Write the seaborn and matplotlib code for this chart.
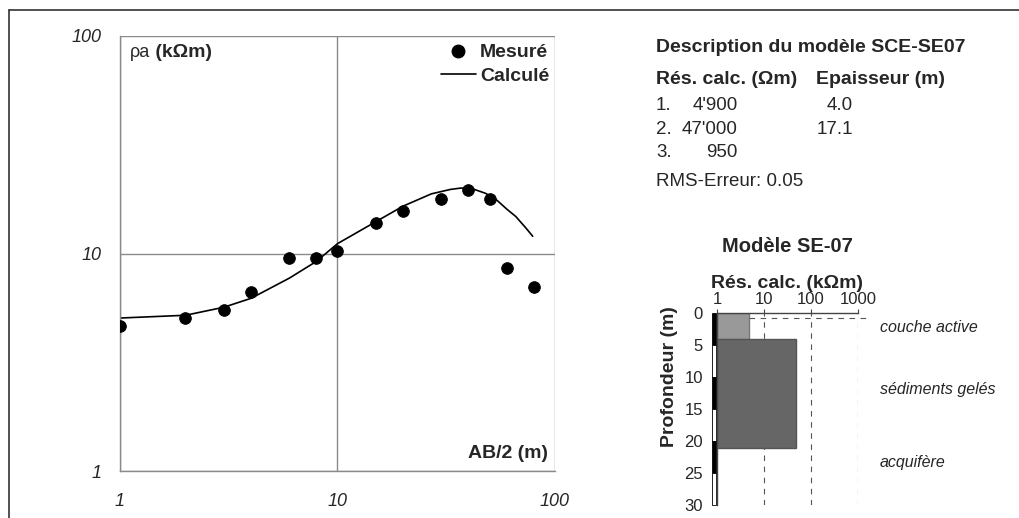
import matplotlib
matplotlib.use("Agg")
import matplotlib.pyplot as plt
import matplotlib.transforms as mtransforms
from matplotlib.lines import Line2D
from matplotlib.patches import Rectangle
import seaborn as sns

# sondage SE-07, valeurs mesurées
ab2_mes = [1, 2, 3, 4, 6, 8, 10, 15, 20, 30, 40, 50, 60, 80]
rho_mes = [4.64, 5.04, 5.50, 6.68, 9.5, 9.5, 10.3, 13.8, 15.7, 17.9, 19.6, 17.8, 8.58, 7.04]

# courbe calculée
ab2_calc = [1, 2, 3, 4, 6, 8, 10, 15, 20, 27, 33, 37, 42, 48, 54, 60, 66, 73, 79]
rho_calc = [5.05, 5.2, 5.66, 6.22, 7.7, 9.2, 11.1, 14.0, 16.5, 18.8, 19.7, 20.0, 19.8, 18.9, 17.6, 16.0, 14.8, 13.2, 12.0]

# modèle
res_ohm = [4900, 47000, 950]
epaisseur = [4.0, 17.1]
couches = ["couche active", "sédiments gelés", "acquifère"]
rms = 0.05
prof_max = 30

sns.set_style("white")
plt.rcParams["font.family"] = ["Liberation Sans", "DejaVu Sans"]

W, H = 1020, 518
fig = plt.figure(figsize=(W / 100, H / 100), dpi=100)


def px(x, y):
    return x / W, 1 - y / H


# ---- courbe de sondage ----
ax = fig.add_axes([120 / W, 47 / H, 435 / W, 435 / H])
ax.set_xscale("log")
ax.set_yscale("log")
sns.lineplot(x=ab2_calc, y=rho_calc, ax=ax, color="black", lw=1.2, sort=False, estimator=None)
sns.scatterplot(x=ab2_mes, y=rho_mes, ax=ax, color="black", s=70, edgecolor="black", zorder=3)
ax.set_xlim(1, 100)
ax.set_ylim(1, 100)
ax.set_xticks([1, 10, 100], labels=["1", "10", "100"], fontstyle="italic")
ax.set_yticks([1, 10, 100], labels=["1", "10", "100"], fontstyle="italic")
ax.minorticks_off()
ax.tick_params(axis="both", direction="out", length=5, width=1, color="#8a8a8a", labelsize=13)
ax.tick_params(axis="y", pad=8)
ax.tick_params(axis="x", pad=11)
ax.grid(True, color="#8a8a8a", lw=1)
for s in ["top", "right"]:
    ax.spines[s].set_visible(False)
for s in ["left", "bottom"]:
    ax.spines[s].set_color("#8a8a8a")
    ax.spines[s].set_linewidth(1)
ax.set_xlabel("")
ax.set_ylabel("")

t1 = ax.text(0.022, 0.962, "ρa", transform=ax.transAxes, fontsize=13, va="center", ha="left")
ax.annotate(" (kΩm)", xy=(1, 0.5), xycoords=t1, va="center", ha="left", fontsize=14, fontweight="bold")
ax.text(0.983, 0.04, "AB/2 (m)", transform=ax.transAxes, fontsize=14, fontweight="bold", ha="right", va="center")

handles = [
    Line2D([], [], marker="o", ls="none", color="black", markersize=9),
    Line2D([], [], color="black", lw=1.2),
]
ax.legend(handles, ["Mesuré", "Calculé"], loc="upper right", bbox_to_anchor=(1.022, 1.018),
          frameon=False, handlelength=1.8, handletextpad=0.2, labelspacing=0.3,
          borderaxespad=0.4, prop={"size": 14, "weight": "bold"})

# ---- description ----
fs = 13.5
fig.text(*px(656, 47), "Description du modèle SCE-SE07", fontsize=14, fontweight="bold", va="center")
fig.text(*px(656, 79), "Rés. calc. (Ωm)", fontsize=14, fontweight="bold", va="center")
fig.text(*px(816, 79), "Epaisseur (m)", fontsize=14, fontweight="bold", va="center")
rows_y = [106, 129, 152]
for i, r in enumerate(res_ohm):
    fig.text(*px(656, rows_y[i]), f"{i + 1}.", fontsize=fs, va="center")
    fig.text(*px(738, rows_y[i]), f"{r:,}".replace(",", "'"), fontsize=fs, va="center", ha="right")
    if i < len(epaisseur):
        fig.text(*px(853, rows_y[i]), f"{epaisseur[i]:.1f}", fontsize=fs, va="center", ha="right")
fig.text(*px(656, 181), f"RMS-Erreur: {rms:.2f}", fontsize=fs, va="center")

# ---- modèle ----
ax2 = fig.add_axes([717 / W, 13 / H, 141 / W, 192 / H])
ax2.set_xscale("log")
res_k = [r / 1000 for r in res_ohm]
tops = [0] + [sum(epaisseur[:i + 1]) for i in range(len(epaisseur))]
bots = tops[1:] + [prof_max]
col = ["#999999", "#666666", "#cccccc"]
edge = ["#777777", "#555555", "#aaaaaa"]
for i in range(len(res_k)):
    if res_k[i] > 1:
        ax2.barh(y=(tops[i] + bots[i]) / 2, width=res_k[i] - 1, left=1, height=bots[i] - tops[i],
                 color=col[i], edgecolor=edge[i], lw=1, zorder=2)
ax2.set_xlim(1, 1000)
ax2.set_ylim(prof_max, 0)
for v in [10, 100, 1000]:
    ax2.axvline(v, ls=(0, (5, 5)), color="#555555", lw=0.8, zorder=1)
ax2.hlines(0.8, res_k[0], 1800, ls=(0, (5, 5)), color="#555555", lw=0.8, clip_on=False)

ax2.xaxis.tick_top()
ax2.xaxis.set_label_position("top")
ax2.set_xticks([1, 10, 100, 1000], labels=["1", "10", "100", "1000"])
ax2.set_yticks(range(0, prof_max + 1, 5))
ax2.minorticks_off()
ax2.tick_params(axis="x", length=3, color="#444444", labelsize=12, pad=1)
ax2.tick_params(axis="y", length=0, labelsize=12, pad=10)
ax2.set_xlabel("Rés. calc. (kΩm)", fontsize=14, fontweight="bold", labelpad=3)
ax2.set_ylabel("Profondeur (m)", fontsize=14, fontweight="bold")
ax2.yaxis.set_label_coords(-0.28, 0.667)
for s in ["right", "bottom"]:
    ax2.spines[s].set_visible(False)
for s in ["top", "left"]:
    ax2.spines[s].set_color("#444444")
    ax2.spines[s].set_linewidth(1)

trans = mtransforms.blended_transform_factory(ax2.transAxes, ax2.transData)
for i, d in enumerate(range(0, prof_max, 5)):
    ax2.add_patch(Rectangle((-0.035, d), 0.025, 5, transform=trans, clip_on=False,
                            facecolor="black" if i % 2 == 0 else "white", edgecolor="black", lw=0.6))
label_depth = [2.2, 12.0, 23.4]
for i, c in enumerate(couches):
    ax2.text(1.156, label_depth[i], c, transform=trans, fontsize=11.5, fontstyle="italic", va="center")

fig.text(*px(787, 247), "Modèle SE-07", fontsize=14.5, fontweight="bold", ha="center", va="center")

# cadre
fig.add_artist(Line2D([9 / W, 9 / W], [0, 1 - 10 / H], transform=fig.transFigure, color="#333333", lw=1.2))
fig.add_artist(Line2D([9 / W, 1], [1 - 10 / H, 1 - 10 / H], transform=fig.transFigure, color="#333333", lw=1.2))

fig.savefig("out.png", dpi=100)
